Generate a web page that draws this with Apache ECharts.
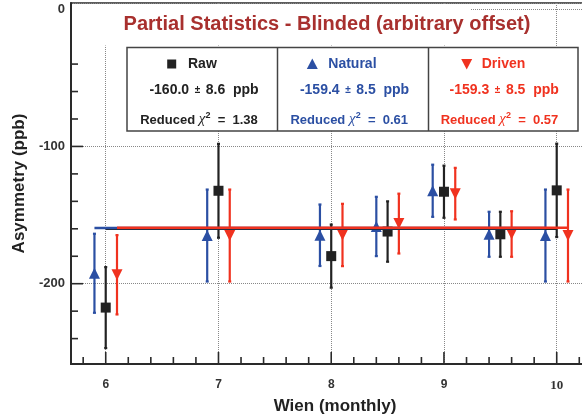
<!DOCTYPE html>
<html><head><meta charset="utf-8">
<script src="https://cdn.jsdelivr.net/npm/echarts@6/dist/echarts.min.js"></script>
<style>html,body{margin:0;padding:0;background:#fff;overflow:hidden}#c{width:600px;height:420px}</style>
</head><body><div id="c"></div>
<script>
// ---- data ----
const months = [6, 7, 8, 8.5, 9, 9.5, 10];
const raw = [-217.4, -132.3, -179.9, -162.0, -133.0, -164.0, -132.0];
const rawErr = [29.5, 34.2, 23.0, 22.0, 19.0, 16.4, 34.0];
const natural = [-192.4, -164.9, -164.7, -158.3, -132.3, -164.0, -164.9];
const naturalErr = [28.8, 33.5, 22.4, 21.6, 19.0, 16.4, 33.5];
const driven = [-193.5, -164.9, -164.5, -156.2, -134.4, -163.8, -164.9];
const drivenErr = [28.9, 33.5, 22.7, 21.8, 18.8, 16.6, 33.5];
const fitNames = ['Raw', 'Natural', 'Driven'];
const fitValues = [-160.0, -159.4, -159.3];
const fitErrors = [8.6, 8.5, 8.5];
const chi2 = ['1.38', '0.61', '0.57'];
const xMajorTicks = [6, 7, 8, 9, 10];
const xMinorTicks = [5.8, 6.2, 6.4, 6.6, 6.8, 7.2, 7.4, 7.6, 7.8, 8.2, 8.4, 8.6, 8.8, 9.2, 9.4, 9.6, 9.8, 10.2];
const yMajorTicks = [0, -100, -200];
const yMinorTicks = [-20, -40, -60, -80, -120, -140, -160, -180, -220, -240];
const titleText = 'Partial Statistics - Blinded (arbitrary offset)';
const xName = 'Wien (monthly)';
const yName = 'Asymmetry (ppb)';

// ---- styles ----
const FONT = '"Liberation Sans", Arial, Helvetica, sans-serif';
const C_RAW = '#222222', C_NAT = '#2b4fa3', C_DRV = '#f0321f', C_TITLE = '#a8302e';
const AX = '#2a2a2a';
const X_MIN = 5.692, X_MAX = 10.375, Y_MIN = -258.5, Y_MAX = 4.5;

function errSeries(name, vals, errs, dx, color) {
  return {
    type: 'custom', name: name + ' err', z: 3, clip: false,
    data: months.map((m, i) => [m + dx, vals[i], errs[i]]),
    encode: { x: 0, y: 1 },
    renderItem(params, api) {
      const x = api.value(0), y = api.value(1), e = api.value(2);
      const t = api.coord([x, y + e]), b = api.coord([x, y - e]);
      const cap = 1.5, st = { stroke: color, lineWidth: 2.2 };
      return { type: 'group', children: [
        { type: 'line', shape: { x1: t[0], y1: t[1], x2: b[0], y2: b[1] }, style: st },
        { type: 'line', shape: { x1: t[0] - cap, y1: t[1], x2: t[0] + cap, y2: t[1] }, style: st },
        { type: 'line', shape: { x1: b[0] - cap, y1: b[1], x2: b[0] + cap, y2: b[1] }, style: st }
      ]};
    }
  };
}
function markSeries(name, vals, dx, color, symbol, size, rot) {
  return {
    type: 'scatter', name, z: 4, symbol, symbolSize: size, symbolRotate: rot || 0,
    itemStyle: { color, opacity: 1 },
    data: months.map((m, i) => [m + dx, vals[i]])
  };
}
function fitSeries(idx, dx, color) {
  return {
    type: 'line', name: fitNames[idx] + ' fit', z: 5, showSymbol: false, symbol: 'none',
    lineStyle: { color, width: 2.5 },
    data: [[months[0] + dx, fitValues[idx]], [months[months.length - 1] + dx, fitValues[idx]]]
  };
}

const DX = 0.1;
const boxL = 127, boxT = 47.5, boxB = 131, boxR = 578, div1 = 277.5, div2 = 428.5;
const cols = [
  { c: C_RAW, sym: 'rect', symX: 171.7, txtX: 188, r2: 204, r3: 199 },
  { c: C_NAT, sym: 'tri', symX: 312.3, txtX: 328.3, r2: 354.5, r3: 349.2 },
  { c: C_DRV, sym: 'itri', symX: 466.7, txtX: 481.7, r2: 504.2, r3: 499.5 }
];
const graphics = [
  { type: 'rect', z: 100, shape: { x: 72, y: 4.5, width: 399, height: 41 }, style: { fill: '#fff' } },
  { type: 'text', z: 102, x: 327, y: 24.5, style: { text: titleText, font: 'bold 20px ' + FONT, fill: C_TITLE, align: 'center', verticalAlign: 'middle' } },
  { type: 'rect', z: 101, shape: { x: boxL, y: boxT, width: boxR - boxL, height: boxB - boxT }, style: { fill: '#fff', stroke: '#444', lineWidth: 1.5 } },
  { type: 'line', z: 102, shape: { x1: div1, y1: boxT, x2: div1, y2: boxB }, style: { stroke: '#444', lineWidth: 1.5 } },
  { type: 'line', z: 102, shape: { x1: div2, y1: boxT, x2: div2, y2: boxB }, style: { stroke: '#444', lineWidth: 1.5 } }
];
cols.forEach((col, i) => {
  if (col.sym === 'rect') {
    graphics.push({ type: 'rect', z: 103, shape: { x: col.symX - 4.5, y: 64 - 4.5, width: 9, height: 9 }, style: { fill: col.c } });
  } else if (col.sym === 'tri') {
    graphics.push({ type: 'polygon', z: 103, shape: { points: [[col.symX, 58.5], [col.symX - 5.5, 69], [col.symX + 5.5, 69]] }, style: { fill: col.c } });
  } else {
    graphics.push({ type: 'polygon', z: 103, shape: { points: [[col.symX, 69.5], [col.symX - 5.5, 59], [col.symX + 5.5, 59]] }, style: { fill: col.c } });
  }
  graphics.push({ type: 'text', z: 103, x: col.txtX, y: 64, style: { text: fitNames[i], font: 'bold 14px ' + FONT, fill: col.c, align: 'left', verticalAlign: 'middle' } });
  graphics.push({ type: 'text', z: 103, x: col.r2, y: 90.5, style: {
    text: '{a|' + fitValues[i].toFixed(1) + '}{p|  ±  }{a|' + fitErrors[i].toFixed(1) + '  ppb}',
    align: 'center', verticalAlign: 'middle', fill: col.c,
    rich: { a: { font: 'bold 14px ' + FONT, fill: col.c }, p: { font: 'bold 10px ' + FONT, fill: col.c } } } });
  graphics.push({ type: 'text', z: 103, x: col.r3, y: 119, style: {
    text: '{a|Reduced}{x| χ}{s|2}{a|  =  ' + chi2[i] + '}',
    align: 'center', verticalAlign: 'middle', fill: col.c,
    rich: {
      a: { font: 'bold 13px ' + FONT, fill: col.c, lineHeight: 16, verticalAlign: 'bottom' },
      x: { font: 'italic 15px "Liberation Serif", serif', fill: col.c, lineHeight: 16, verticalAlign: 'bottom' },
      s: { font: 'bold 9px ' + FONT, fill: col.c, lineHeight: 9, verticalAlign: 'top' } } } });
});

const chart = echarts.init(document.getElementById('c'), null, { renderer: 'canvas' });
chart.setOption({
  animation: false,
  backgroundColor: '#fff',
  grid: { left: 71, top: 3, right: 1, bottom: 55, show: true, borderColor: AX, borderWidth: 1.5, backgroundColor: '#fff', containLabel: false },
  xAxis: {
    type: 'value', min: X_MIN, max: X_MAX, splitNumber: 5,
    name: xName, nameLocation: 'middle', nameGap: 34,
    nameTextStyle: { fontFamily: FONT, fontWeight: 'bold', fontSize: 17, color: '#222' },
    axisLine: { show: true, onZero: false, lineStyle: { color: AX, width: 2 } },
    axisTick: { show: false },
    minorTick: { show: false },
    splitLine: { show: true, lineStyle: { color: '#888', type: 'dotted', width: 1 } },
    axisLabel: { showMinLabel: false, showMaxLabel: false, margin: 15, fontFamily: FONT, fontWeight: 'bold', fontSize: 12, color: '#333',
      formatter: v => (v === 10 ? '{s|10}' : String(v)),
      rich: { s: { fontFamily: '"Liberation Serif", serif', fontWeight: 'bold', fontSize: 13, color: '#333' } } }
  },
  yAxis: {
    type: 'value', min: Y_MIN, max: Y_MAX, splitNumber: 3,
    name: yName, nameLocation: 'middle', nameGap: 35, nameRotate: 90,
    nameTextStyle: { fontFamily: FONT, fontWeight: 'bold', fontSize: 17, color: '#222' },
    axisLine: { show: true, onZero: false, lineStyle: { color: AX, width: 2 } },
    axisTick: { show: false },
    minorTick: { show: false },
    splitLine: { show: true, lineStyle: { color: '#888', type: 'dotted', width: 1 } },
    axisLabel: { showMinLabel: false, showMaxLabel: false, margin: 6, fontFamily: FONT, fontWeight: 'bold', fontSize: 13, color: '#333' }
  },
  series: [
    errSeries('Natural', natural, naturalErr, -DX, C_NAT),
    errSeries('Raw', raw, rawErr, 0, C_RAW),
    errSeries('Driven', driven, drivenErr, DX, C_DRV),
    markSeries('Natural', natural, -DX, C_NAT, 'triangle', 11),
    markSeries('Raw', raw, 0, C_RAW, 'rect', 10),
    markSeries('Driven', driven, DX, C_DRV, 'triangle', 11, 180),
    fitSeries(0, 0, C_RAW),
    fitSeries(1, -DX, C_NAT),
    fitSeries(2, DX, C_DRV)
  ],
  graphic: { elements: graphics }
});

// tick marks placed through the axes' own scales (convertToPixel)
const tickEls = [];
const tickStyle = { stroke: AX, lineWidth: 1.6 };
function addX(vals, len) {
  vals.forEach(v => {
    const p = chart.convertToPixel({ gridIndex: 0 }, [v, Y_MIN]);
    tickEls.push({ type: 'line', z: 50, shape: { x1: p[0], y1: p[1] - 1, x2: p[0], y2: p[1] - 1 - len }, style: tickStyle });
  });
}
function addY(vals, len) {
  vals.forEach(v => {
    const p = chart.convertToPixel({ gridIndex: 0 }, [X_MIN, v]);
    tickEls.push({ type: 'line', z: 50, shape: { x1: p[0] + 1, y1: p[1], x2: p[0] + 1 + len, y2: p[1] }, style: tickStyle });
  });
}
addX(xMajorTicks, 11); addX(xMinorTicks, 6); addY(yMajorTicks, 11); addY(yMinorTicks, 6);
chart.setOption({ graphic: { elements: graphics.concat(tickEls) } }, { replaceMerge: ['graphic'] });
</script></body></html>
